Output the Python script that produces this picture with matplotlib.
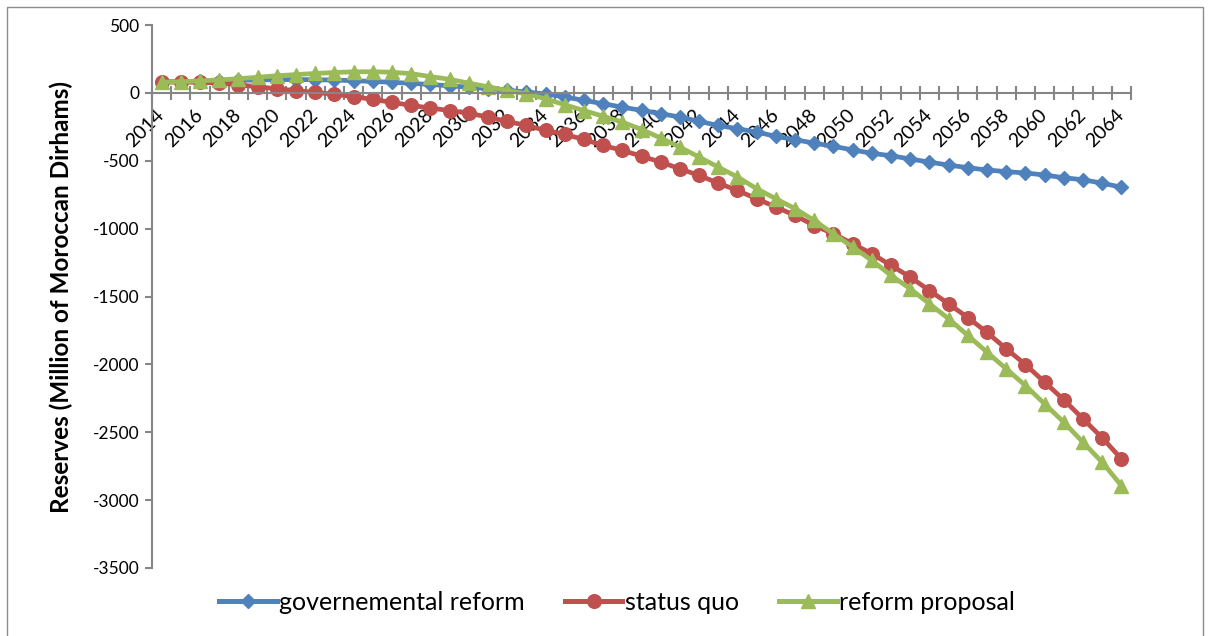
import matplotlib
matplotlib.use("Agg")
import matplotlib.pyplot as plt
from matplotlib.ticker import FixedLocator, MultipleLocator
from matplotlib.lines import Line2D
import numpy as np

# reserves per year, million MAD
years = list(range(2014, 2065))

governmental = [
    80, 83, 86, 89, 92, 95, 97, 98, 97, 94,
    90, 84, 78, 70, 62, 52, 42, 32, 20, 6,
    -8, -30, -55, -80, -105, -129, -153, -178, -210, -240,
    -264, -289, -320, -345, -370, -394, -420, -445, -463, -487,
    -510, -532, -551, -568, -580, -590, -605, -625, -640, -665,
    -695,
]
status_quo = [
    80, 80, 78, 72, 60, 45, 30, 17, 3, -10,
    -28, -48, -70, -92, -112, -130, -150, -178, -210, -240,
    -276, -306, -343, -387, -424, -466, -510, -559, -608, -665,
    -719, -780, -841, -903, -977, -1038, -1111, -1185, -1271, -1357,
    -1456, -1554, -1655, -1765, -1885, -2001, -2131, -2261, -2401, -2541,
    -2696,
]
reform_proposal = [
    78, 82, 88, 96, 104, 115, 126, 135, 143, 150,
    155, 156, 152, 142, 120, 100, 72, 45, 18, -8,
    -43, -88, -130, -172, -215, -270, -332, -400, -473, -547,
    -620, -706, -780, -853, -940, -1038, -1136, -1234, -1345, -1443,
    -1554, -1664, -1787, -1910, -2033, -2156, -2291, -2426, -2574, -2721,
    -2893,
]

series_names = ["governemental reform", "status quo", "reform proposal"]
colors = ["#4F81BD", "#C0504D", "#9BBB59"]
markers = ["D", "o", "^"]
marker_sizes = [7.0, 9.8, 10.0]

AXIS_GREY = "#868686"

plt.rcParams["font.family"] = ["Lato", "DejaVu Sans"]
plt.rcParams["axes.unicode_minus"] = False

fig = plt.figure(figsize=(12.10, 6.36), dpi=100)
ax = fig.add_axes([152 / 1210, 1 - 568 / 636, 979 / 1210, 543 / 636])

x = np.arange(len(years))
for vals, name, c, m, ms in zip(
    [governmental, status_quo, reform_proposal], series_names, colors, markers, marker_sizes
):
    ax.plot(x, vals, color=c, lw=3.4, marker=m, ms=ms, mec=c, mfc=c,
            solid_capstyle="round", label=name, clip_on=False)

ax.set_xlim(-0.5, len(years) - 0.5)
ax.set_ylim(-3500, 500)
ax.yaxis.set_major_locator(MultipleLocator(500))

# category axis sits on the zero line
for side in ("top", "right"):
    ax.spines[side].set_visible(False)
ax.spines["bottom"].set_position(("data", 0))
for side in ("left", "bottom"):
    ax.spines[side].set_color(AXIS_GREY)
    ax.spines[side].set_linewidth(1.5)

# tick marks between categories, labels every second year
ax.xaxis.set_minor_locator(FixedLocator(np.arange(-0.5, len(years), 1.0)))
ax.xaxis.set_major_locator(FixedLocator(x[::2]))
ax.set_xticklabels([str(y) for y in years[::2]], rotation=45, ha="right",
                   va="center", rotation_mode="anchor", fontsize=14)
ax.tick_params(axis="x", which="major", length=0, pad=14)
ax.tick_params(axis="x", which="minor", direction="inout", length=10,
               width=1.5, color=AXIS_GREY)
ax.tick_params(axis="y", direction="out", length=5, width=1.5,
               color=AXIS_GREY, labelsize=12.5, pad=4)

fig.text(61 / 1210, 1 - 297 / 636, "Reserves (Million of Moroccan Dirhams)",
         rotation=90, ha="center", va="center", fontsize=17.5, fontweight="bold")

handles = [Line2D([], [], color=c, lw=3.6, marker=m, ms=ms, mec=c, mfc=c)
           for c, m, ms in zip(colors, markers, marker_sizes)]
fig.legend(handles, series_names, loc="center", bbox_to_anchor=(0.51, 1 - 602 / 636),
           ncol=3, frameon=False, fontsize=18, handlelength=2.3,
           handletextpad=0.1, columnspacing=1.6, numpoints=1)

# chart area border
border = plt.Rectangle((7 / 1210, -0.01), 1196 / 1210, 1.01 - 7 / 636,
                       transform=fig.transFigure, fill=False,
                       edgecolor="#8C8C8C", lw=1.0)
fig.patches.append(border)

fig.savefig("out.png", dpi=100)
